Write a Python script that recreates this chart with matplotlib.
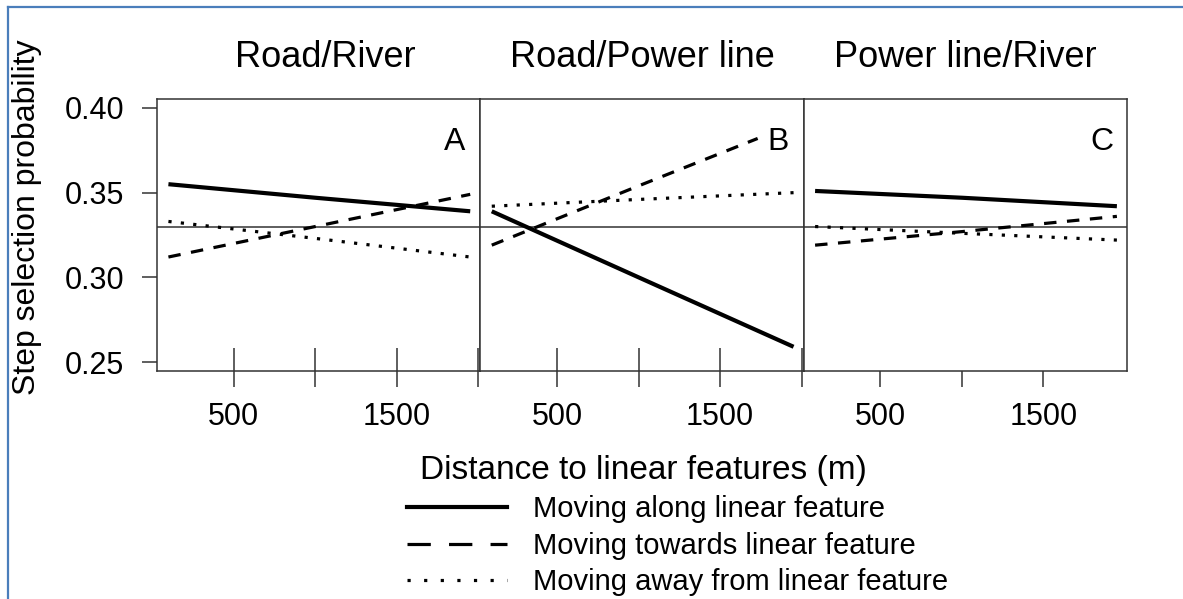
import matplotlib.pyplot as plt
from matplotlib.lines import Line2D

plt.rcParams['font.family'] = ['Liberation Sans', 'DejaVu Sans']

# distance (m) at which the fitted lines were read
dist = [100, 1000, 1950]
# the dashed line of panel B stops short of the letter B
dist_towards = [[100, 1000, 1950],
                [100, 1000, 1730],
                [100, 1000, 1950]]

panels = ["Road/River", "Road/Power line", "Power line/River"]
letters = ["A", "B", "C"]

# step selection probability, one list per panel
along = [[0.355, 0.347, 0.339],
         [0.339, 0.300, 0.259],
         [0.351, 0.347, 0.342]]
towards = [[0.312, 0.330, 0.349],
           [0.319, 0.354, 0.382],
           [0.319, 0.327, 0.336]]
away = [[0.333, 0.323, 0.312],
        [0.342, 0.346, 0.350],
        [0.330, 0.326, 0.322]]

ref_level = 0.33
x_ticks = [500, 1000, 1500, 2000]
x_ticklabels = ["500", "", "1500", ""]
y_ticks = [0.25, 0.30, 0.35, 0.40]
y_ticklabels = ["0.25", "0.30", "0.35", "0.40"]
legend_labels = ["Moving along linear feature",
                 "Moving towards linear feature",
                 "Moving away from linear feature"]

W, H = 1183, 599
fig = plt.figure(figsize=(W / 100, H / 100), dpi=100)
gs = fig.add_gridspec(1, 3, left=157 / W, right=1127 / W,
                      bottom=1 - 371 / H, top=1 - 99 / H, wspace=0)

dash = (0, (3.9, 3.3))
dot = (0, (1.0, 2.9))
frame_col = '#333333'

for i in range(3):
    ax = fig.add_subplot(gs[0, i])
    ax.plot(dist, along[i], color='black', lw=3.0, solid_capstyle='butt')
    ax.plot(dist_towards[i], towards[i], color='black', lw=2.3, ls=dash)
    ax.plot(dist, away[i], color='black', lw=2.3, ls=dot)
    ax.axhline(ref_level, color=frame_col, lw=1.1, zorder=1)

    ax.set_xlim(30, 2012)
    ax.set_ylim(0.2447, 0.4053)
    for s in ax.spines.values():
        s.set_color(frame_col)
        s.set_linewidth(1.1)

    if i < 2:
        ax.set_xticks(x_ticks)
        ax.set_xticklabels(x_ticklabels)
        # the short inward marks above the bottom ticks
        ax.vlines(x_ticks, 0, 23 / 272, transform=ax.get_xaxis_transform(),
                  color=frame_col, lw=1.1)
    else:
        ax.set_xticks(x_ticks[:3])
        ax.set_xticklabels(x_ticklabels[:3])
    ax.tick_params(axis='x', direction='out', length=11.5, width=1.1,
                   color=frame_col, pad=11, labelsize=22)

    if i == 0:
        ax.set_yticks(y_ticks)
        ax.set_yticklabels(y_ticklabels)
        ax.tick_params(axis='y', direction='out', length=10.8, width=1.1,
                       color=frame_col, pad=13, labelsize=22)
    else:
        ax.set_yticks([])

    ax.text(0.5 + 0.02 * (i == 0), 1.151, panels[i], transform=ax.transAxes,
            ha='center', va='center', fontsize=26)
    ax.text(0.922, 0.842, letters[i], transform=ax.transAxes, ha='center',
            va='center', fontsize=23)

fig.text(27 / W, 1 - 217 / H, "Step selection probability", rotation=90,
         ha='center', va='center', fontsize=23)
fig.text(643 / W, 1 - 470 / H, "Distance to linear features (m)",
         ha='center', va='center', fontsize=24)

# legend keys are drawn a bit coarser than the lines in the panels
keys = [Line2D([], [], color='black', lw=3.0),
        Line2D([], [], color='black', lw=2.3, ls=(0, (7.3, 5.7))),
        Line2D([], [], color='black', lw=2.3, ls=(0, (1.0, 4.2)))]
fig.legend(keys, legend_labels,
           loc='upper left', bbox_to_anchor=(407 / W, 1 - 495 / H),
           frameon=False, fontsize=21, handlelength=3.43, handletextpad=0.89,
           labelspacing=0.3, borderpad=0, borderaxespad=0)

# blue frame round the picture
fig.add_artist(Line2D([8 / W, 8 / W], [0, 1 - 7 / H], color='#4a7ebb', lw=1.6))
fig.add_artist(Line2D([8 / W, 1], [1 - 7 / H, 1 - 7 / H], color='#4a7ebb', lw=1.6))

fig.savefig("out.png", dpi=100, facecolor='white')
